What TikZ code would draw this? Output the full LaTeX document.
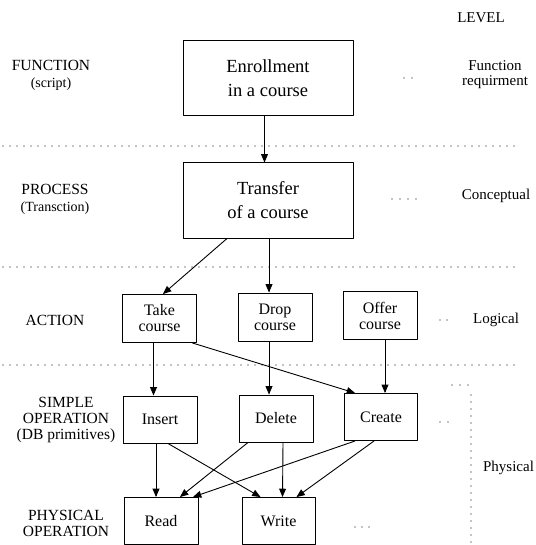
\documentclass[tikz,border=0pt]{standalone}
\usepackage{fontspec}
\setmainfont{Liberation Serif}
\usetikzlibrary{arrows}

\begin{document}
\begin{tikzpicture}[line cap=round,line join=round,>=triangle 45,x=1pt,y=-1pt,
  bigbox/.style={draw,line width=1pt,minimum width=170pt,minimum height=75pt,align=center,font=\fontsize{18.5}{24}\selectfont},
  smallbox/.style={draw,line width=1pt,minimum width=74pt,minimum height=48pt,align=center,font=\fontsize{16}{16}\selectfont},
  levelname/.style={align=center,font=\fontsize{15.5}{16}\selectfont},
  levelkind/.style={align=center,font=\fontsize{15}{15}\selectfont},
  link/.style={->,line width=0.9pt},
  sep/.style={line width=1.1pt,dash pattern=on 0pt off 7pt}]
\useasboundingbox (0,0) rectangle (535,545);

\node [bigbox] (enroll) at (268,78) {Enrollment\\in a course};
\node [bigbox] (transfer) at (268,200.5) {Transfer\\of a course};
\node [smallbox] (take) at (159.5,318.5) {Take\\course};
\node [smallbox] (drop) at (275,317) {Drop\\course};
\node [smallbox] (offer) at (380,315.5) {Offer\\course};
\node [smallbox,minimum height=47pt] (insert) at (160,419.5) {Insert};
\node [smallbox,minimum height=47pt] (delete) at (276,418.5) {Delete};
\node [smallbox,minimum height=47pt,minimum width=73pt] (create) at (381,417) {Create};
\node [smallbox,minimum height=47pt] (read) at (161,521) {Read};
\node [smallbox,minimum height=47pt,minimum width=73pt] (write) at (278.5,521) {Write};

\node [levelname] (fn) at (51,75) {FUNCTION\\[1pt]{\fontsize{14}{14}\selectfont(script)}};
\node [levelname] (pr) at (55,199) {PROCESS\\[1pt]{\fontsize{14}{14}\selectfont(Transction)}};
\node [levelname] (ac) at (55,320) {ACTION};
\node [levelname] (so) at (66,420) {SIMPLE\\OPERATION\\(DB primitives)};
\node [levelname] (po) at (66,523) {PHYSICAL\\OPERATION};

\node [levelkind] (lv) at (481,18) {LEVEL};
\node [levelkind] (fr) at (495,75) {Function\\requirment};
\node [levelkind] (cp) at (496,196) {Conceptual};
\node [levelkind] (lg) at (496,320) {Logical};
\node [levelkind] (ph) at (508.5,468) {Physical};

\draw [sep] (3,146) -- (520,146);
\draw [sep] (3,267) -- (520,267);
\draw [sep] (3,365) -- (520,365);
\draw [sep] (471,395) -- (471,545);
\foreach \x in {404,412}
  \fill (\x,78) circle (0.7pt);
\foreach \x in {392,400,408,416}
  \fill (\x,199) circle (0.7pt);
\foreach \x in {440,447}
  \fill (\x,320) circle (0.7pt);
\foreach \x in {440,448}
  \fill (\x,422) circle (0.7pt);
\foreach \x in {355,362,369}
  \fill (\x,527) circle (0.7pt);
\foreach \x in {452,460,468}
  \fill (\x,385) circle (0.7pt);

\draw [link] ([xshift=-3.5]enroll.south) -- ([xshift=-3.5]enroll.south |- transfer.north);
\draw [link] ([xshift=-41]transfer.south) -- ([xshift=3.5]take.north);
\draw [link] ([xshift=1]transfer.south) -- ([xshift=1]transfer.south |- drop.north);
\draw [link] ([xshift=-6]take.south) -- ([xshift=-6]take.south |- insert.north);
\draw [link] ([xshift=33]take.south) -- ([xshift=-26]create.north);
\draw [link] ([xshift=-6]drop.south) -- ([xshift=-6]drop.south |- delete.north);
\draw [link] ([xshift=5]offer.south) -- ([xshift=5]offer.south |- create.north);

\draw [link] ([xshift=-4]insert.south) -- ([xshift=-4]insert.south |- read.north);
\draw [link] ([xshift=8]insert.south) -- ([xshift=-18]write.north);
\draw [link] ([xshift=-28]delete.south) -- ([xshift=19]read.north);
\draw [link] ([xshift=7]delete.south) -- ([xshift=4]write.north);
\draw [link] ([xshift=-26]create.south) -- ([xshift=32]read.north);
\draw [link] ([xshift=-7]create.south) -- ([xshift=18]write.north);
\end{tikzpicture}
\end{document}
